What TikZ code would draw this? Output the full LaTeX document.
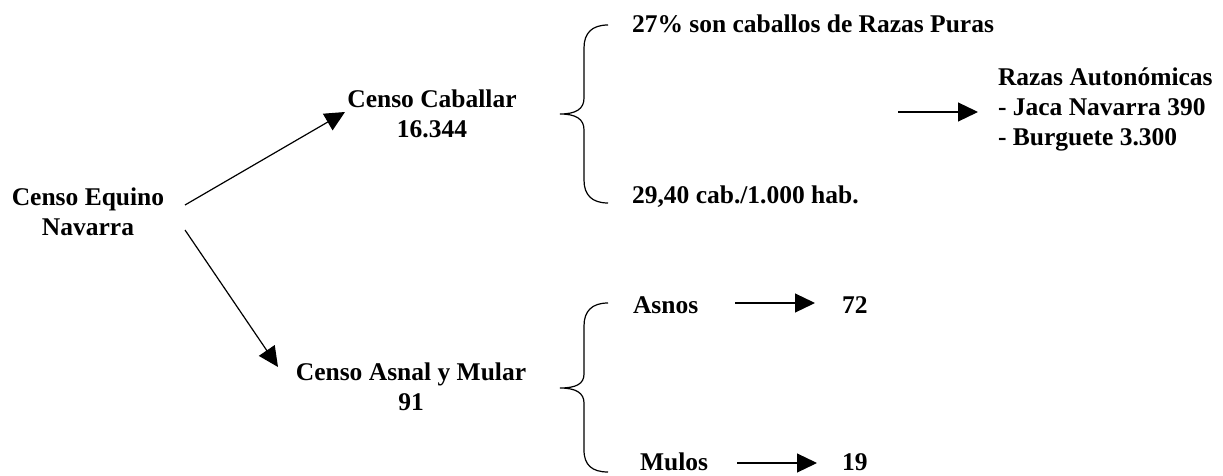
\documentclass[tikz,border=0pt]{standalone}
\usepackage{fontspec}
\setmainfont{Liberation Serif}
\usetikzlibrary{arrows.meta}
\tikzset{
  txt/.style={font=\fontsize{25.5}{30}\selectfont\bfseries, inner sep=0pt, outer sep=0pt},
  arr/.style={line width=1.2pt, -{Triangle[length=20pt,width=19pt]}},
  bracestroke/.style={line width=1.2pt}
}
\begin{document}
\begin{tikzpicture}[x=1pt,y=-1pt]
\useasboundingbox (0,0) rectangle (1223,476);
% left node
\node[txt, anchor=base] (eq) at (88,205) {\begin{tabular}[t]{@{}c@{}}Censo Equino\\Navarra\end{tabular}};
% upper branch
\node[txt, anchor=base] (cab) at (432,108) {\begin{tabular}[t]{@{}c@{}}Censo Caballar\\16.344\end{tabular}};
% lower branch
\node[txt, anchor=base] (asn) at (411,380) {\begin{tabular}[t]{@{}c@{}}Censo Asnal y Mular\\91\end{tabular}};
% connectors from the left node
\coordinate (eqU) at (185,205);
\coordinate (cabIn) at (345,112);
\coordinate (eqD) at (185,230);
\coordinate (asnIn) at (278,367);
\draw[arr] (eqU) -- (cabIn);
\draw[arr] (eqD) -- (asnIn);
% upper brace
\draw[bracestroke] (608,25) .. controls (592,25) and (584,33) .. (584,48) -- (584,98)
  .. controls (584,109) and (576,114) .. (560,114)
  .. controls (576,114) and (584,119) .. (584,130) -- (584,180)
  .. controls (584,195) and (592,203) .. (608,203);
\node[txt, anchor=base west] (pur) at (632,33) {27\% son caballos de Razas Puras};
\node[txt, anchor=base west] (hab) at (632,203) {29,40 cab./1.000 hab.};
% razas autonomicas
\node[txt, anchor=base west] (raz) at (998,86) {\begin{tabular}[t]{@{}l@{}}Razas Autonómicas\\- Jaca Navarra 390\\- Burguete 3.300\end{tabular}};
\coordinate (razA) at (898,112);
\coordinate (razB) at (978,112);
\draw[arr] (razA) -- (razB);
% lower brace
\draw[bracestroke] (608,303) .. controls (592,303) and (584,311) .. (584,326) -- (584,374)
  .. controls (584,384) and (576,388) .. (560,388)
  .. controls (576,388) and (584,393) .. (584,403) -- (584,450)
  .. controls (584,465) and (592,472) .. (608,472);
\node[txt, anchor=base west] (asnos) at (633,313) {Asnos};
\node[txt, anchor=base west] (n72) at (842,313) {72};
\node[txt, anchor=base west] (mulos) at (640,470) {Mulos};
\node[txt, anchor=base west] (n19) at (842,470) {19};
\coordinate (asA) at (735,303);
\coordinate (asB) at (815,303);
\coordinate (muA) at (737,463);
\coordinate (muB) at (817,463);
\draw[arr] (asA) -- (asB);
\draw[arr] (muA) -- (muB);
\end{tikzpicture}
\end{document}
